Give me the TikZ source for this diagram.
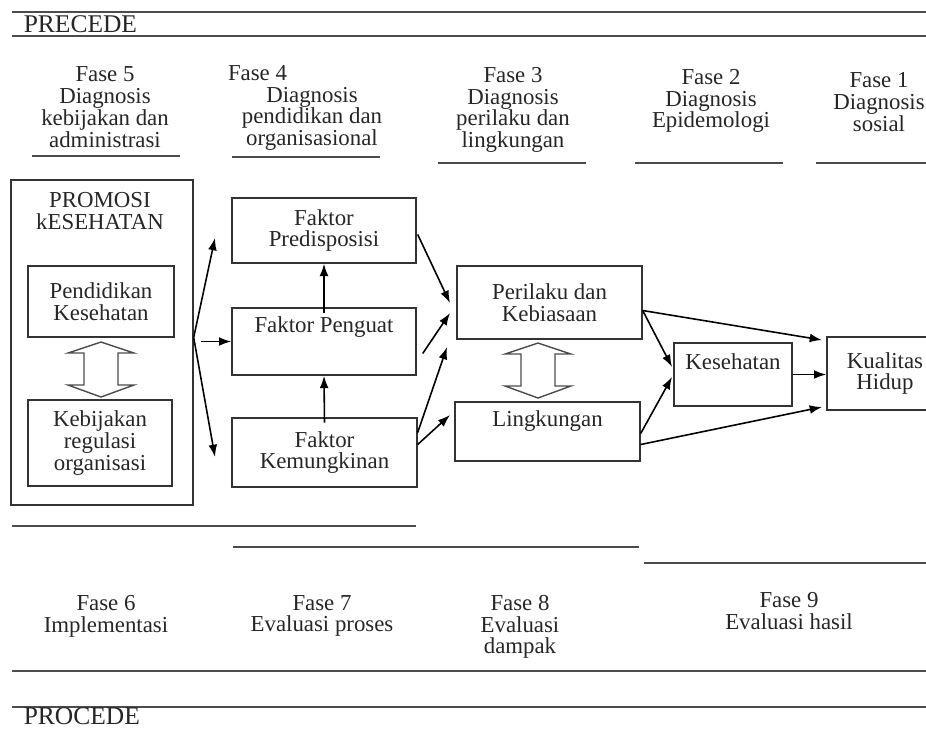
\documentclass[tikz,border=0pt]{standalone}
\usepackage{fontspec}
\setmainfont{Liberation Serif}
\usetikzlibrary{positioning, calc, arrows.meta}

\begin{document}
\begin{tikzpicture}[x=0.02cm, y=-0.02cm, >={Latex[length=7pt,width=5pt]}, line width=0.9pt,
    every node/.style={font=\fontsize{13}{12.4}\selectfont, align=center, text=black!85},
    box/.style={draw=black!80, line width=0.8pt, inner sep=0pt},
    rule/.style={draw=black!70, line width=1pt},
    title/.style={font=\fontsize{14.5}{14}\selectfont, inner sep=0pt},
    hollow/.style={draw=black!70, line width=0.8pt, fill=white}]
    \useasboundingbox (0,0) rectangle (926,728);
    \clip (0,0) rectangle (926,728);

    % PRECEDE header
    \draw[rule] (12,12) -- (926,12);
    \draw[rule] (12,36) -- (926,36);
    \node[title, anchor=west] (precede) at (23,24) {PRECEDE};

    \node (f5) at (105,107) {Fase 5\\Diagnosis\\kebijakan dan\\administrasi};
    \node (f4) at (312,108) {\makebox[3.36cm][l]{Fase 4}\\Diagnosis\\pendidikan dan\\organisasional};
    \node (f3) at (513,110) {Fase 3\\Diagnosis\\perilaku dan\\lingkungan};
    \node (f2) at (711,101) {Fase 2\\Diagnosis\\Epidemologi};
    \node (f1) at (879,102) {Fase 1\\Diagnosis\\sosial};

    \draw[rule] (32,156) -- (180,156);
    \draw[rule] (232,157) -- (380,157);
    \draw[rule] (438,163) -- (586,163);
    \draw[rule] (635,163) -- (783,163);
    \draw[rule] (816,163) -- (926,163);

    % boxes
    \node[box, minimum width=3.64cm, minimum height=6.5cm] (promo) at (102,342.5) {};
    \node (promotitle) at (100,211) {PROMOSI\\kESEHATAN};
    \node[box, minimum width=2.92cm, minimum height=1.42cm] (pend) at (101,301.5) {Pendidikan\\Kesehatan};
    \node[box, minimum width=2.88cm, minimum height=1.72cm] (kebij) at (100,443) {Kebijakan\\regulasi\\organisasi};

    \node[box, minimum width=3.68cm, minimum height=1.30cm] (predis) at (324,230.5) {Faktor\\Predisposisi};
    \node[box, minimum width=3.68cm, minimum height=1.34cm, text height=13.7pt, text depth=24.5pt] (peng) at (324,341.5) {Faktor Penguat};
    \node[box, minimum width=3.70cm, minimum height=1.38cm] (kemung) at (324.5,452.5) {Faktor\\Kemungkinan};

    \node[box, minimum width=3.70cm, minimum height=1.46cm] (peril) at (549.5,302.5) {Perilaku dan\\Kebiasaan};
    \node[box, minimum width=3.70cm, minimum height=1.18cm, text height=14.2pt, text depth=19.4pt] (lingk) at (547.5,431.5) {Lingkungan};
    \node[box, minimum width=2.36cm, minimum height=1.26cm, text height=14.8pt, text depth=21pt] (keseh) at (733,374.5) {Kesehatan};
    \node[box, minimum width=2.32cm, minimum height=1.46cm] (kual) at (885,373.5) {Kualitas\\Hidup};

    % hollow two-way arrows
    \draw[hollow, shift={(101,342)}] (0,0) -- (33,11) -- (17,11) -- (17,43) -- (33,43) -- (0,55)
        -- (-33,43) -- (-17,43) -- (-17,11) -- (-33,11) -- cycle;
    \draw[hollow, shift={(538,343)}] (0,0) -- (33,11) -- (17,11) -- (17,43) -- (33,43) -- (0,55)
        -- (-33,43) -- (-17,43) -- (-17,11) -- (-33,11) -- cycle;

    % free arrow ends
    \coordinate (fork) at ($(promo.east)+(0,-5)$);
    \coordinate (upTip) at (215,238);
    \coordinate (downTip) at (215,457);
    \coordinate (inA) at (450,303);
    \coordinate (inB) at (450,313);
    \coordinate (inC) at (447,347);
    \coordinate (inD) at (450,415);
    \coordinate (kesA) at (672,367);
    \coordinate (kesB) at (672,377);
    \coordinate (kualA) at (822,340);
    \coordinate (kualB) at (822,407);

    \draw[->] (fork) -- (upTip);
    \draw[->] (fork) -- (downTip);
    \draw[->] ($(peng.west -| promo.east)+(7,0)$) -- (peng.west);
    \draw[->] ([yshift=-3pt]peng.north) -- (predis.south);
    \draw[->] ([yshift=-3pt]kemung.north) -- (peng.south);

    \draw[->] ($(predis.east)+(1,4)$) -- (inA);
    \draw[->] ($(peng.east)+(6,12)$) -- (inB);
    \draw[->] ($(kemung.east)+(0,-20)$) -- (inC);
    \draw[->] ($(kemung.east)+(0,-8)$) -- (inD);

    \draw[->] ($(peril.east)+(0,8)$) -- (kesA);
    \draw[->] ($(peril.east)+(0,8)$) -- (kualA);
    \draw[->] ($(lingk.east)+(0,2)$) -- (kesB);
    \draw[->] ($(lingk.east)+(0,13)$) -- (kualB);
    \draw[->] (keseh.east) -- (keseh.east -| kual.west);

    % PROCEDE footer
    \draw[rule] (12,526) -- (416,526);
    \draw[rule] (233,547) -- (639,547);
    \draw[rule] (644,563) -- (926,563);

    \node (f6) at (106,616) {Fase 6\\Implementasi};
    \node (f7) at (322,616) {Fase 7\\Evaluasi proses};
    \node (f8) at (520,627) {Fase 8\\Evaluasi\\dampak};
    \node (f9) at (789,611) {Fase 9\\Evaluasi hasil};

    \draw[rule] (12,671) -- (926,671);
    \draw[rule] (12,707) -- (926,707);
    \node[title, anchor=base west] (procede) at (23,724) {PROCEDE};
\end{tikzpicture}
\end{document}
